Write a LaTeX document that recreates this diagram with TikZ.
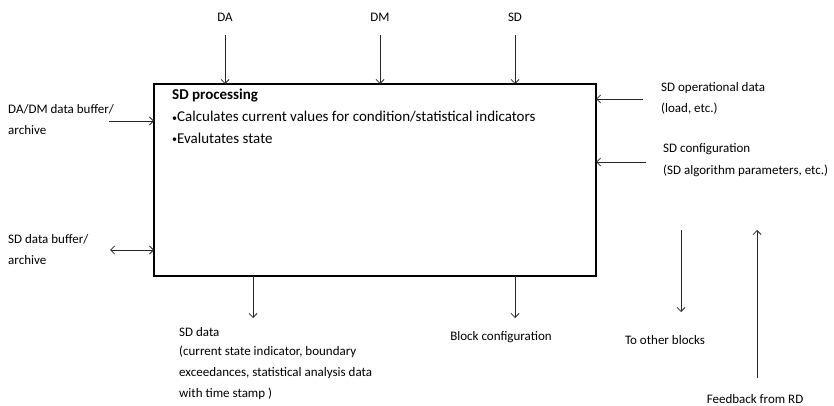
\documentclass[tikz,border=0pt]{standalone}
\usepackage{fontspec}
\setmainfont{Carlito}
\usetikzlibrary{arrows.meta}
\newcommand{\smallbul}{{\fontsize{10}{10}\selectfont\raisebox{0.5pt}{•}}}
\begin{document}
\begin{tikzpicture}[x=1pt,y=-1pt,
  lbl/.style={inner sep=0pt, font=\fontsize{13}{15}\selectfont, anchor=west},
  clbl/.style={inner sep=0pt, font=\fontsize{13}{15}\selectfont},
  boxtxt/.style={inner sep=0pt, anchor=west, font=\fontsize{15}{17}\selectfont},
  flow/.style={draw=black!85, line width=0.8pt, -{Straight Barb[length=4pt,width=8pt]}},
  flowboth/.style={draw=black!85, line width=0.8pt, {Straight Barb[length=4pt,width=8pt]}-{Straight Barb[length=4pt,width=8pt]}}]
\useasboundingbox (0,0) rectangle (834,406);

% main processing block
\draw[line width=2pt] (154,84) rectangle (596,276);
\coordinate (boxT1) at (225,84);
\coordinate (boxT2) at (380,84);
\coordinate (boxT3) at (515,84);
\coordinate (boxL1) at (154,121);
\coordinate (boxL2) at (154,250);
\coordinate (boxR1) at (596,99);
\coordinate (boxR2) at (596,162);
\coordinate (boxB1) at (253,276);
\coordinate (boxB2) at (515,276);

\node[boxtxt, font=\fontsize{15}{17}\selectfont\bfseries] (title) at (172,96) {SD processing};
\node[boxtxt] (b1) at (172,117) {\smallbul Calculates current values for condition/statistical indicators};
\node[boxtxt] (b2) at (172,138) {\smallbul Evalutates state};

% top inputs
\node[clbl] (da) at (225,17) {DA};
\node[clbl] (dm) at (380,17) {DM};
\node[clbl] (sd) at (515,17) {SD};
\coordinate (daS) at (225,35);
\coordinate (dmS) at (380,35);
\coordinate (sdS) at (515,35);
\draw[flow] (daS) -- (boxT1);
\draw[flow] (dmS) -- (boxT2);
\draw[flow] (sdS) -- (boxT3);

% left side
\node[lbl] (buf1a) at (8,109) {DA/DM data buffer/};
\node[lbl] (buf1b) at (8,130) {archive};
\coordinate (buf1S) at (109,121);
\draw[flow] (buf1S) -- (boxL1);
\node[lbl] (buf2a) at (8,239) {SD data buffer/};
\node[lbl] (buf2b) at (8,260) {archive};
\coordinate (buf2S) at (110,250);
\draw[flowboth] (buf2S) -- (boxL2);

% right side
\node[lbl] (opa) at (661,88) {SD operational data};
\node[lbl] (opb) at (661,109) {(load, etc.)};
\coordinate (opS) at (643,99);
\draw[flow] (opS) -- (boxR1);
\node[lbl] (cfga) at (663,149) {SD configuration};
\node[lbl] (cfgb) at (663,171) {(SD algorithm parameters, etc.)};
\coordinate (cfgS) at (646,162);
\draw[flow] (cfgS) -- (boxR2);

% bottom outputs
\coordinate (sddE) at (253,318);
\draw[flow] (boxB1) -- (sddE);
\node[lbl] (sdd1) at (179,332) {SD data};
\node[lbl] (sdd2) at (179,352) {(current state indicator, boundary};
\node[lbl] (sdd3) at (179,373) {exceedances, statistical analysis data};
\node[lbl] (sdd4) at (179,394) {with time stamp )};
\coordinate (bcE) at (515,318);
\draw[flow] (boxB2) -- (bcE);
\node[clbl] (bc) at (501,337) {Block configuration};

% links to other blocks
\coordinate (toS) at (681,230);
\coordinate (toE) at (681,312);
\draw[flow] (toS) -- (toE);
\node[clbl] (to) at (665,340) {To other blocks};
\coordinate (fbS) at (757,378);
\coordinate (fbE) at (757,230);
\draw[flow] (fbS) -- (fbE);
\node[clbl] (fb) at (755,399) {Feedback from RD};
\end{tikzpicture}
\end{document}
